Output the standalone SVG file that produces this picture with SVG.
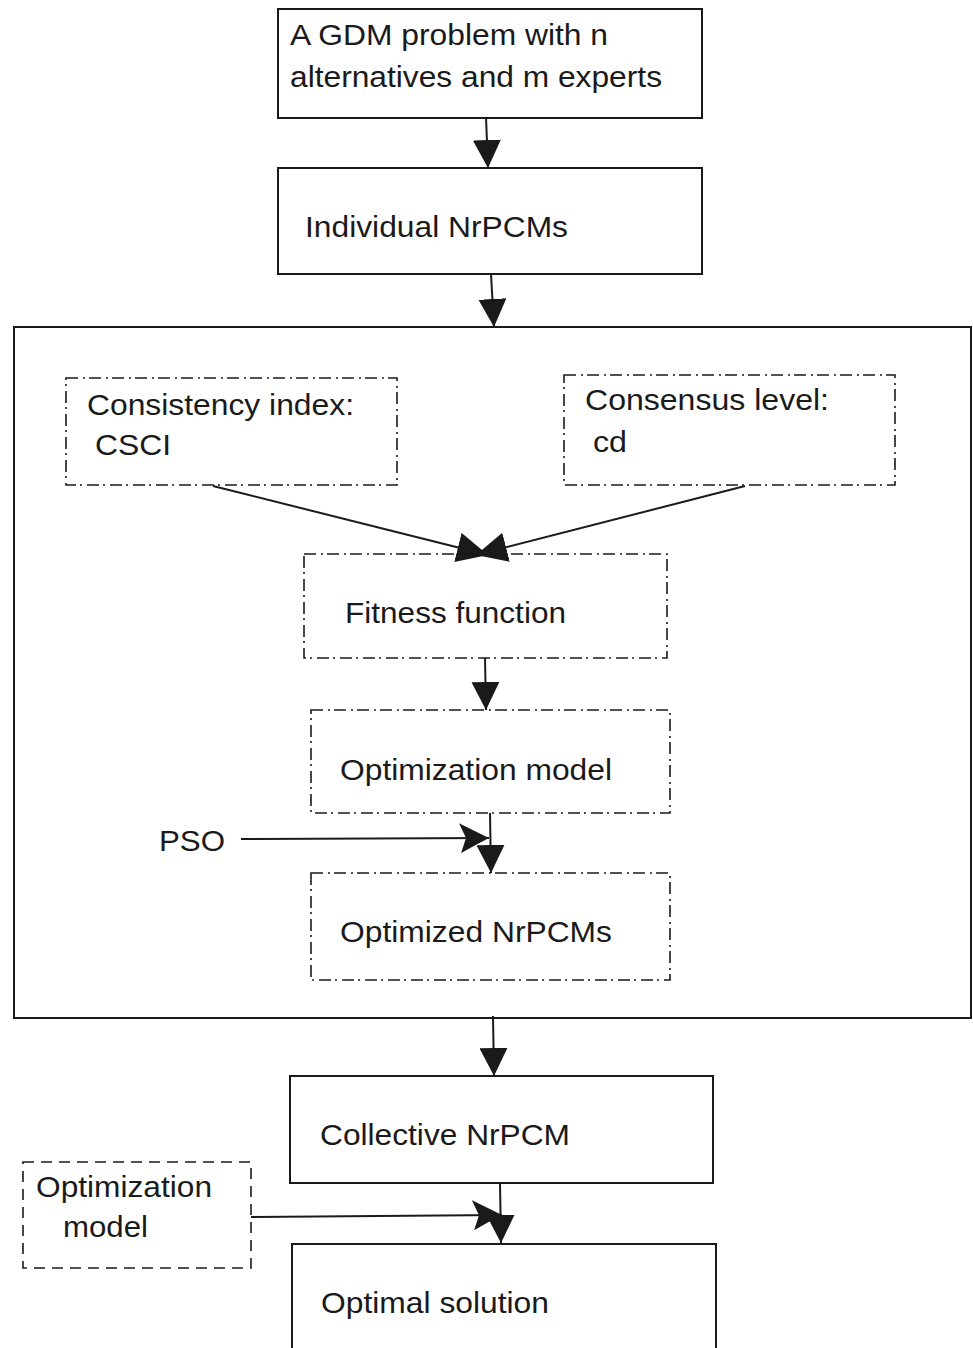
<svg xmlns="http://www.w3.org/2000/svg" width="973" height="1348" viewBox="0 0 973 1348">
<style>
  .box { fill: none; stroke: #1a1a1a; stroke-width: 2; }
  .dd { fill: none; stroke: #1a1a1a; stroke-width: 1.6; stroke-dasharray: 12 5 2 4; }
  .dash { fill: none; stroke: #1a1a1a; stroke-width: 1.6; stroke-dasharray: 11 7; }
  .conn { fill: none; stroke: #1a1a1a; stroke-width: 2; }
  text { font-family: "Liberation Sans", Arial, sans-serif; font-size: 30px; fill: #1a1a1a; }
</style>
<defs>
  <marker id="tri" markerUnits="userSpaceOnUse" markerWidth="28" markerHeight="28" refX="28" refY="14" orient="auto" viewBox="0 0 28 28">
    <path d="M0,0 L28,14 L0,28 z" fill="#1a1a1a"/>
  </marker>
  <marker id="tri2" markerUnits="userSpaceOnUse" markerWidth="31" markerHeight="30" refX="31" refY="15" orient="auto" viewBox="0 0 31 30">
    <path d="M0,0 L31,15 L0,30 z" fill="#1a1a1a"/>
  </marker>
  <marker id="stealth" markerUnits="userSpaceOnUse" markerWidth="30" markerHeight="30" refX="30" refY="15" orient="auto" viewBox="0 0 30 30">
    <path d="M0,0 Q16,8 30,15 Q16,22 2,30 L7,15 z" fill="#1a1a1a"/>
  </marker>
</defs>

<g id="n-gdm">
  <rect class="box" x="278" y="9" width="424" height="109"/>
  <text x="290" y="45" textLength="318" lengthAdjust="spacingAndGlyphs">A GDM problem with n</text>
  <text x="290" y="87" textLength="372" lengthAdjust="spacingAndGlyphs">alternatives and m experts</text>
</g>
<g id="n-individual">
  <rect class="box" x="278" y="168" width="424" height="106"/>
  <text x="305" y="237" textLength="263" lengthAdjust="spacingAndGlyphs">Individual NrPCMs</text>
</g>
<g id="n-container">
  <rect class="box" x="14" y="327" width="957" height="691"/>
</g>
<g id="n-consistency">
  <rect class="dd" x="66" y="378" width="331" height="107"/>
  <text x="87" y="415" textLength="267" lengthAdjust="spacingAndGlyphs">Consistency index:</text>
  <text x="95" y="455" textLength="76" lengthAdjust="spacingAndGlyphs">CSCI</text>
</g>
<g id="n-consensus">
  <rect class="dd" x="564" y="375" width="331" height="110"/>
  <text x="585" y="410" textLength="244" lengthAdjust="spacingAndGlyphs">Consensus level:</text>
  <text x="593" y="452" textLength="34" lengthAdjust="spacingAndGlyphs">cd</text>
</g>
<g id="n-fitness">
  <rect class="dd" x="304" y="554" width="363" height="104"/>
  <text x="345" y="623" textLength="221" lengthAdjust="spacingAndGlyphs">Fitness function</text>
</g>
<g id="n-optmodel">
  <rect class="dd" x="311" y="710" width="359" height="103"/>
  <text x="340" y="780" textLength="272" lengthAdjust="spacingAndGlyphs">Optimization model</text>
</g>
<g id="n-pso">
  <text x="159" y="851" textLength="66" lengthAdjust="spacingAndGlyphs">PSO</text>
</g>
<g id="n-optimized">
  <rect class="dd" x="311" y="873" width="359" height="107"/>
  <text x="340" y="942" textLength="272" lengthAdjust="spacingAndGlyphs">Optimized NrPCMs</text>
</g>
<g id="n-collective">
  <rect class="box" x="290" y="1076" width="423" height="107"/>
  <text x="320" y="1145" textLength="250" lengthAdjust="spacingAndGlyphs">Collective NrPCM</text>
</g>
<g id="n-optmodel2">
  <rect class="dash" x="23" y="1162" width="228" height="106"/>
  <text x="36" y="1197" textLength="176" lengthAdjust="spacingAndGlyphs">Optimization</text>
  <text x="63" y="1237" textLength="85" lengthAdjust="spacingAndGlyphs">model</text>
</g>
<g id="n-optimal">
  <path class="box" d="M292,1350 L292,1244 L716,1244 L716,1350"/>
  <text x="321" y="1313" textLength="228" lengthAdjust="spacingAndGlyphs">Optimal solution</text>
</g>

<g id="connectors">
  <line class="conn" x1="486" y1="117" x2="488" y2="168" marker-end="url(#tri)"/>
  <line class="conn" x1="491" y1="274" x2="494" y2="327" marker-end="url(#tri)"/>
  <line class="conn" x1="213" y1="486" x2="488" y2="555" marker-end="url(#tri2)"/>
  <line class="conn" x1="745" y1="486" x2="476" y2="555" marker-end="url(#tri2)"/>
  <line class="conn" x1="485" y1="658" x2="486" y2="710" marker-end="url(#tri)"/>
  <line class="conn" x1="490" y1="813" x2="491" y2="873" marker-end="url(#tri)"/>
  <line class="conn" x1="241" y1="839" x2="489" y2="838" marker-end="url(#stealth)"/>
  <line class="conn" x1="493" y1="1016" x2="494" y2="1076" marker-end="url(#tri)"/>
  <line class="conn" x1="500" y1="1183" x2="501" y2="1243" marker-end="url(#tri)"/>
  <line class="conn" x1="251" y1="1217" x2="502" y2="1215" marker-end="url(#stealth)"/>
</g>
</svg>
